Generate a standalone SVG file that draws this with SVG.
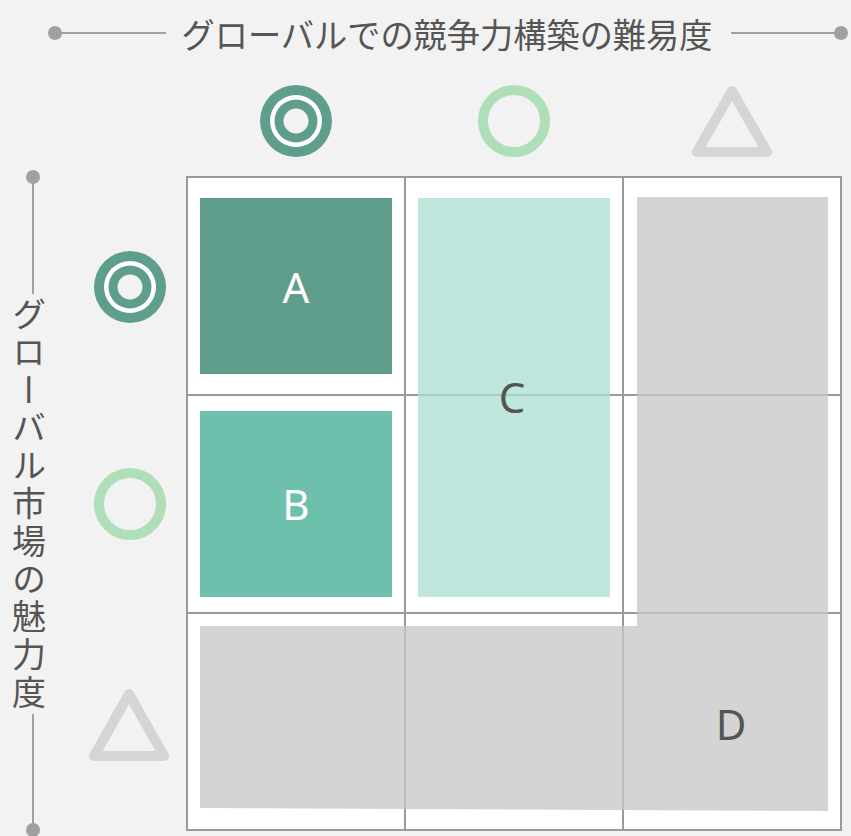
<svg xmlns="http://www.w3.org/2000/svg" width="851" height="836" viewBox="0 0 851 836">
<defs>
<style>
.axis{stroke:#a0a0a0;stroke-width:2;fill:none}
.dot{fill:#a0a0a0}
.jp{font-family:"Noto Sans CJK JP","Noto Sans",sans-serif;fill:#555;font-size:34px}
.grid{stroke:#9a9a9a;stroke-width:2;fill:none}
.lbl{font-family:"Noto Sans","Open Sans",sans-serif;font-size:42px;text-anchor:middle}
.tri{fill:none;stroke:#d5d5d5;stroke-width:10;stroke-linejoin:round}
.ring{fill:none;stroke:#aedfb9;stroke-width:10}
</style>
<g id="dbl">
<circle r="36" fill="#5f9e8c"/>
<circle r="26" fill="#ffffff"/>
<circle r="21.5" fill="#5f9e8c"/>
<circle r="12.5" fill="#f2f2f2"/>
</g>
</defs>
<rect width="851" height="836" fill="#f2f2f2"/>

<g id="top-axis">
<line class="axis" x1="55" y1="33" x2="166" y2="33"/>
<circle class="dot" cx="55" cy="33" r="7"/>
<line class="axis" x1="731" y1="33" x2="841" y2="33"/>
<circle class="dot" cx="841" cy="33" r="7"/>
<text class="jp" x="447" y="33" text-anchor="middle" dominant-baseline="central" textLength="531" lengthAdjust="spacingAndGlyphs">グローバルでの競争力構築の難易度</text>
</g>

<g id="left-axis">
<line class="axis" x1="33" y1="177" x2="33" y2="294"/>
<circle class="dot" cx="33" cy="177" r="7"/>
<line class="axis" x1="33" y1="714" x2="33" y2="830"/>
<circle class="dot" cx="33" cy="830" r="7"/>
<text class="jp" x="29" y="297" style="writing-mode:vertical-rl;letter-spacing:3.8px" font-size="33">グローバル市場の魅力度</text>
</g>

<g id="col-symbols">
<use href="#dbl" x="296" y="121"/>
<circle class="ring" cx="514" cy="121" r="31"/>
<path class="tri" d="M732 91 L767 152 L697 152 Z"/>
</g>
<g id="row-symbols">
<use href="#dbl" x="130" y="287"/>
<circle class="ring" cx="130" cy="504" r="31"/>
<path class="tri" d="M129 694 L164 756 L94 756 Z"/>
</g>

<g id="grid">
<rect x="187" y="177" width="654" height="653" fill="#ffffff"/>
<g class="grid">
<rect x="187" y="177" width="654" height="653"/>
<line x1="405" y1="177" x2="405" y2="830"/>
<line x1="623" y1="177" x2="623" y2="830"/>
<line x1="187" y1="395" x2="841" y2="395"/>
<line x1="187" y1="613" x2="841" y2="613"/>
</g>
</g>

<g id="nodeA">
<rect x="200" y="198" width="192" height="176" fill="#5f9e8c"/>
<text class="lbl" x="296" y="303" fill="#ffffff">A</text>
</g>
<g id="nodeB">
<rect x="200" y="411" width="192" height="186" fill="#6cc0ac"/>
<text class="lbl" x="296" y="520" fill="#ffffff">B</text>
</g>
<g id="nodeC">
<rect x="418" y="198" width="192" height="399" fill="#abdfd3" fill-opacity="0.75"/>
<text class="lbl" x="512" y="413" fill="#555">C</text>
</g>
<g id="nodeD">
<path d="M200 626 L637 626 L637 197 L828 197 L828 811 L200 808 Z" fill="#c6c6c6" fill-opacity="0.75"/>
<text class="lbl" x="731" y="740" fill="#555">D</text>
</g>
</svg>
